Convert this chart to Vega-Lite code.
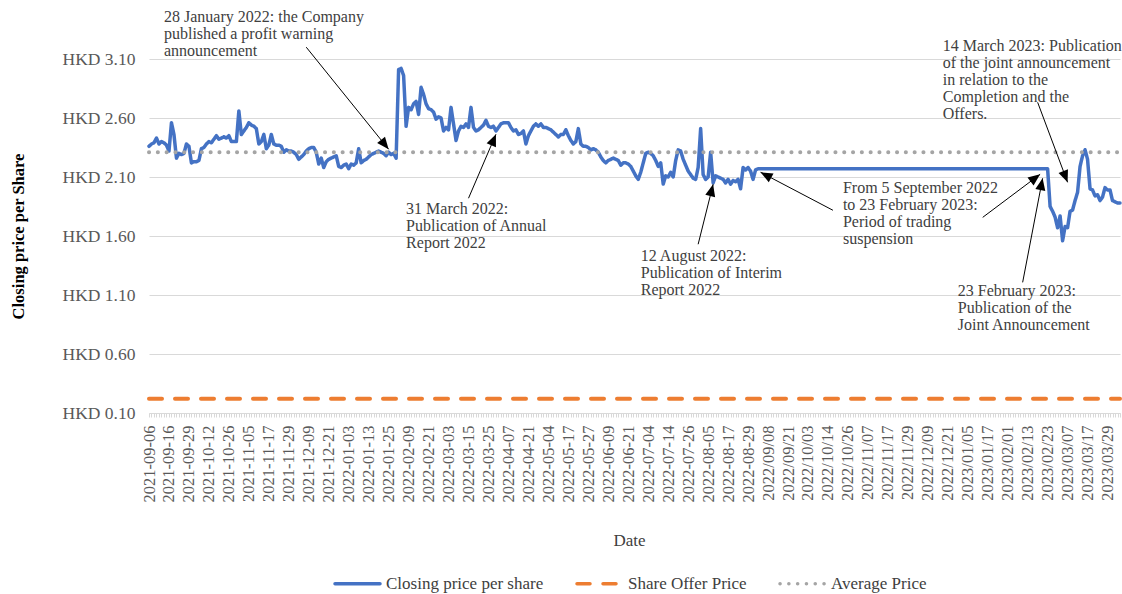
{
 "$schema": "https://vega.github.io/schema/vega-lite/v6.json",
 "width": 971, "height": 354,
 "autosize": {"type": "none"},
 "padding": {"left": 149, "top": 59, "right": 2, "bottom": 181},
 "background": "white",
 "config": {
  "view": {"stroke": null},
  "font": "Liberation Serif",
  "legend": {"orient": "none", "legendX": 184, "legendY": 500, "direction": "horizontal", "symbolType": "stroke", "symbolSize": 2025, "symbolStrokeWidth": 3.5, "labelFont": "Liberation Serif", "labelFontSize": 17, "labelColor": "#404040", "columnPadding": 26, "labelOffset": 4}
 },
 "datasets": {
  "price": [
{"d":"2021-09-06","v":2.36},{"d":"2021-09-07","v":2.38},{"d":"2021-09-08","v":2.39},{"d":"2021-09-09","v":2.43},{"d":"2021-09-10","v":2.38},{"d":"2021-09-13","v":2.40},{"d":"2021-09-14","v":2.39},{"d":"2021-09-15","v":2.37},{"d":"2021-09-16","v":2.32},{"d":"2021-09-17","v":2.56},
{"d":"2021-09-20","v":2.46},{"d":"2021-09-21","v":2.26},{"d":"2021-09-23","v":2.30},{"d":"2021-09-24","v":2.29},{"d":"2021-09-27","v":2.30},{"d":"2021-09-28","v":2.38},{"d":"2021-09-29","v":2.36},{"d":"2021-09-30","v":2.22},{"d":"2021-10-04","v":2.23},{"d":"2021-10-05","v":2.23},
{"d":"2021-10-06","v":2.24},{"d":"2021-10-07","v":2.34},{"d":"2021-10-08","v":2.35},{"d":"2021-10-11","v":2.38},{"d":"2021-10-12","v":2.40},{"d":"2021-10-15","v":2.39},{"d":"2021-10-18","v":2.42},{"d":"2021-10-19","v":2.45},{"d":"2021-10-20","v":2.42},{"d":"2021-10-21","v":2.43},
{"d":"2021-10-22","v":2.44},{"d":"2021-10-25","v":2.43},{"d":"2021-10-26","v":2.45},{"d":"2021-10-27","v":2.40},{"d":"2021-10-28","v":2.40},{"d":"2021-10-29","v":2.40},{"d":"2021-11-01","v":2.66},{"d":"2021-11-02","v":2.46},{"d":"2021-11-03","v":2.49},{"d":"2021-11-04","v":2.52},
{"d":"2021-11-05","v":2.56},{"d":"2021-11-08","v":2.54},{"d":"2021-11-09","v":2.53},{"d":"2021-11-10","v":2.51},{"d":"2021-11-11","v":2.38},{"d":"2021-11-12","v":2.40},{"d":"2021-11-15","v":2.46},{"d":"2021-11-16","v":2.34},{"d":"2021-11-17","v":2.37},{"d":"2021-11-18","v":2.46},
{"d":"2021-11-19","v":2.38},{"d":"2021-11-22","v":2.37},{"d":"2021-11-23","v":2.37},{"d":"2021-11-24","v":2.36},{"d":"2021-11-25","v":2.31},{"d":"2021-11-26","v":2.33},{"d":"2021-11-29","v":2.32},{"d":"2021-11-30","v":2.32},{"d":"2021-12-01","v":2.31},{"d":"2021-12-02","v":2.29},
{"d":"2021-12-03","v":2.25},{"d":"2021-12-06","v":2.27},{"d":"2021-12-07","v":2.29},{"d":"2021-12-08","v":2.32},{"d":"2021-12-09","v":2.34},{"d":"2021-12-10","v":2.35},{"d":"2021-12-13","v":2.35},{"d":"2021-12-14","v":2.31},{"d":"2021-12-15","v":2.21},{"d":"2021-12-16","v":2.26},
{"d":"2021-12-17","v":2.18},{"d":"2021-12-20","v":2.23},{"d":"2021-12-21","v":2.25},{"d":"2021-12-22","v":2.26},{"d":"2021-12-23","v":2.27},{"d":"2021-12-24","v":2.28},{"d":"2021-12-28","v":2.19},{"d":"2021-12-29","v":2.18},{"d":"2021-12-30","v":2.20},{"d":"2021-12-31","v":2.21},
{"d":"2022-01-03","v":2.17},{"d":"2022-01-04","v":2.21},{"d":"2022-01-05","v":2.20},{"d":"2022-01-06","v":2.22},{"d":"2022-01-07","v":2.34},{"d":"2022-01-10","v":2.22},{"d":"2022-01-11","v":2.24},{"d":"2022-01-12","v":2.25},{"d":"2022-01-13","v":2.27},{"d":"2022-01-14","v":2.29},
{"d":"2022-01-17","v":2.30},{"d":"2022-01-18","v":2.31},{"d":"2022-01-19","v":2.32},{"d":"2022-01-20","v":2.31},{"d":"2022-01-21","v":2.30},{"d":"2022-01-24","v":2.28},{"d":"2022-01-25","v":2.31},{"d":"2022-01-26","v":2.29},{"d":"2022-01-27","v":2.30},{"d":"2022-01-28","v":2.26},
{"d":"2022-01-31","v":3.01},{"d":"2022-02-04","v":3.02},{"d":"2022-02-07","v":2.96},{"d":"2022-02-08","v":2.53},{"d":"2022-02-09","v":2.69},{"d":"2022-02-10","v":2.67},{"d":"2022-02-11","v":2.72},{"d":"2022-02-14","v":2.74},{"d":"2022-02-15","v":2.63},{"d":"2022-02-16","v":2.86},
{"d":"2022-02-17","v":2.80},{"d":"2022-02-18","v":2.72},{"d":"2022-02-21","v":2.68},{"d":"2022-02-22","v":2.67},{"d":"2022-02-23","v":2.65},{"d":"2022-02-24","v":2.59},{"d":"2022-02-25","v":2.61},{"d":"2022-02-28","v":2.60},{"d":"2022-03-01","v":2.49},{"d":"2022-03-02","v":2.52},
{"d":"2022-03-03","v":2.50},{"d":"2022-03-04","v":2.69},{"d":"2022-03-07","v":2.55},{"d":"2022-03-08","v":2.41},{"d":"2022-03-09","v":2.49},{"d":"2022-03-10","v":2.53},{"d":"2022-03-11","v":2.52},{"d":"2022-03-14","v":2.55},{"d":"2022-03-15","v":2.52},{"d":"2022-03-16","v":2.69},
{"d":"2022-03-17","v":2.52},{"d":"2022-03-18","v":2.49},{"d":"2022-03-21","v":2.50},{"d":"2022-03-22","v":2.52},{"d":"2022-03-23","v":2.54},{"d":"2022-03-24","v":2.58},{"d":"2022-03-25","v":2.53},{"d":"2022-03-28","v":2.52},{"d":"2022-03-29","v":2.53},{"d":"2022-03-30","v":2.49},
{"d":"2022-03-31","v":2.52},{"d":"2022-04-01","v":2.55},{"d":"2022-04-04","v":2.56},{"d":"2022-04-06","v":2.56},{"d":"2022-04-07","v":2.56},{"d":"2022-04-08","v":2.52},{"d":"2022-04-11","v":2.49},{"d":"2022-04-12","v":2.50},{"d":"2022-04-13","v":2.46},{"d":"2022-04-14","v":2.47},
{"d":"2022-04-19","v":2.49},{"d":"2022-04-20","v":2.38},{"d":"2022-04-21","v":2.45},{"d":"2022-04-22","v":2.49},{"d":"2022-04-25","v":2.53},{"d":"2022-04-26","v":2.55},{"d":"2022-04-27","v":2.53},{"d":"2022-04-28","v":2.55},{"d":"2022-04-29","v":2.52},{"d":"2022-05-03","v":2.52},
{"d":"2022-05-04","v":2.51},{"d":"2022-05-05","v":2.50},{"d":"2022-05-06","v":2.48},{"d":"2022-05-10","v":2.46},{"d":"2022-05-11","v":2.44},{"d":"2022-05-12","v":2.46},{"d":"2022-05-13","v":2.46},{"d":"2022-05-16","v":2.50},{"d":"2022-05-17","v":2.45},{"d":"2022-05-18","v":2.41},
{"d":"2022-05-19","v":2.38},{"d":"2022-05-20","v":2.40},{"d":"2022-05-23","v":2.51},{"d":"2022-05-24","v":2.38},{"d":"2022-05-25","v":2.36},{"d":"2022-05-26","v":2.36},{"d":"2022-05-27","v":2.35},{"d":"2022-05-30","v":2.33},{"d":"2022-05-31","v":2.34},{"d":"2022-06-01","v":2.33},
{"d":"2022-06-02","v":2.31},{"d":"2022-06-06","v":2.27},{"d":"2022-06-07","v":2.24},{"d":"2022-06-08","v":2.22},{"d":"2022-06-09","v":2.24},{"d":"2022-06-10","v":2.25},{"d":"2022-06-13","v":2.26},{"d":"2022-06-14","v":2.25},{"d":"2022-06-15","v":2.24},{"d":"2022-06-16","v":2.20},
{"d":"2022-06-17","v":2.22},{"d":"2022-06-20","v":2.22},{"d":"2022-06-21","v":2.21},{"d":"2022-06-22","v":2.19},{"d":"2022-06-23","v":2.15},{"d":"2022-06-24","v":2.11},{"d":"2022-06-27","v":2.08},{"d":"2022-06-28","v":2.14},{"d":"2022-06-29","v":2.22},{"d":"2022-06-30","v":2.30},
{"d":"2022-07-04","v":2.31},{"d":"2022-07-05","v":2.30},{"d":"2022-07-06","v":2.28},{"d":"2022-07-07","v":2.24},{"d":"2022-07-08","v":2.19},{"d":"2022-07-11","v":2.22},{"d":"2022-07-12","v":2.04},{"d":"2022-07-13","v":2.11},{"d":"2022-07-14","v":2.10},{"d":"2022-07-15","v":2.14},
{"d":"2022-07-18","v":2.10},{"d":"2022-07-19","v":2.24},{"d":"2022-07-20","v":2.33},{"d":"2022-07-21","v":2.32},{"d":"2022-07-22","v":2.25},{"d":"2022-07-25","v":2.20},{"d":"2022-07-26","v":2.15},{"d":"2022-07-27","v":2.12},{"d":"2022-07-28","v":2.09},{"d":"2022-07-29","v":2.08},
{"d":"2022-08-01","v":2.18},{"d":"2022-08-02","v":2.51},{"d":"2022-08-03","v":2.12},{"d":"2022-08-04","v":2.08},{"d":"2022-08-05","v":2.10},{"d":"2022-08-08","v":2.31},{"d":"2022-08-09","v":2.05},{"d":"2022-08-10","v":2.11},{"d":"2022-08-11","v":2.10},{"d":"2022-08-12","v":2.09},
{"d":"2022-08-15","v":2.08},{"d":"2022-08-16","v":2.05},{"d":"2022-08-17","v":2.08},{"d":"2022-08-18","v":2.04},{"d":"2022-08-19","v":2.07},{"d":"2022-08-22","v":2.06},{"d":"2022-08-23","v":2.08},{"d":"2022-08-24","v":2.00},{"d":"2022-08-25","v":2.18},{"d":"2022-08-26","v":2.16},
{"d":"2022-08-29","v":2.18},{"d":"2022-08-30","v":2.15},{"d":"2022-08-31","v":2.08},{"d":"2022-09-01","v":2.16},{"d":"2022-09-02","v":2.17},
{"d":"2022/09/05","v":2.17},{"d":"2022/09/06","v":2.17},{"d":"2022/09/07","v":2.17},{"d":"2022/09/08","v":2.17},{"d":"2022/09/09","v":2.17},{"d":"2022/09/13","v":2.17},{"d":"2022/09/14","v":2.17},{"d":"2022/09/15","v":2.17},{"d":"2022/09/16","v":2.17},{"d":"2022/09/19","v":2.17},
{"d":"2022/09/20","v":2.17},{"d":"2022/09/21","v":2.17},{"d":"2022/09/22","v":2.17},{"d":"2022/09/23","v":2.17},{"d":"2022/09/26","v":2.17},{"d":"2022/09/27","v":2.17},{"d":"2022/09/28","v":2.17},{"d":"2022/09/29","v":2.17},{"d":"2022/09/30","v":2.17},{"d":"2022/10/03","v":2.17},
{"d":"2022/10/05","v":2.17},{"d":"2022/10/06","v":2.17},{"d":"2022/10/07","v":2.17},{"d":"2022/10/10","v":2.17},{"d":"2022/10/11","v":2.17},{"d":"2022/10/12","v":2.17},{"d":"2022/10/13","v":2.17},{"d":"2022/10/14","v":2.17},{"d":"2022/10/17","v":2.17},{"d":"2022/10/18","v":2.17},
{"d":"2022/10/19","v":2.17},{"d":"2022/10/20","v":2.17},{"d":"2022/10/21","v":2.17},{"d":"2022/10/24","v":2.17},{"d":"2022/10/25","v":2.17},{"d":"2022/10/26","v":2.17},{"d":"2022/10/27","v":2.17},{"d":"2022/10/28","v":2.17},{"d":"2022/10/31","v":2.17},{"d":"2022/11/01","v":2.17},
{"d":"2022/11/02","v":2.17},{"d":"2022/11/03","v":2.17},{"d":"2022/11/04","v":2.17},{"d":"2022/11/07","v":2.17},{"d":"2022/11/08","v":2.17},{"d":"2022/11/09","v":2.17},{"d":"2022/11/10","v":2.17},{"d":"2022/11/11","v":2.17},{"d":"2022/11/14","v":2.17},{"d":"2022/11/15","v":2.17},
{"d":"2022/11/16","v":2.17},{"d":"2022/11/17","v":2.17},{"d":"2022/11/18","v":2.17},{"d":"2022/11/21","v":2.17},{"d":"2022/11/22","v":2.17},{"d":"2022/11/23","v":2.17},{"d":"2022/11/24","v":2.17},{"d":"2022/11/25","v":2.17},{"d":"2022/11/28","v":2.17},{"d":"2022/11/29","v":2.17},
{"d":"2022/11/30","v":2.17},{"d":"2022/12/01","v":2.17},{"d":"2022/12/02","v":2.17},{"d":"2022/12/05","v":2.17},{"d":"2022/12/06","v":2.17},{"d":"2022/12/07","v":2.17},{"d":"2022/12/08","v":2.17},{"d":"2022/12/09","v":2.17},{"d":"2022/12/12","v":2.17},{"d":"2022/12/13","v":2.17},
{"d":"2022/12/14","v":2.17},{"d":"2022/12/15","v":2.17},{"d":"2022/12/16","v":2.17},{"d":"2022/12/19","v":2.17},{"d":"2022/12/20","v":2.17},{"d":"2022/12/21","v":2.17},{"d":"2022/12/22","v":2.17},{"d":"2022/12/23","v":2.17},{"d":"2022/12/28","v":2.17},{"d":"2022/12/29","v":2.17},
{"d":"2022/12/30","v":2.17},{"d":"2023/01/03","v":2.17},{"d":"2023/01/04","v":2.17},{"d":"2023/01/05","v":2.17},{"d":"2023/01/06","v":2.17},{"d":"2023/01/09","v":2.17},{"d":"2023/01/10","v":2.17},{"d":"2023/01/11","v":2.17},{"d":"2023/01/12","v":2.17},{"d":"2023/01/13","v":2.17},
{"d":"2023/01/16","v":2.17},{"d":"2023/01/17","v":2.17},{"d":"2023/01/18","v":2.17},{"d":"2023/01/19","v":2.17},{"d":"2023/01/20","v":2.17},{"d":"2023/01/26","v":2.17},{"d":"2023/01/27","v":2.17},{"d":"2023/01/30","v":2.17},{"d":"2023/01/31","v":2.17},{"d":"2023/02/01","v":2.17},
{"d":"2023/02/02","v":2.17},{"d":"2023/02/03","v":2.17},{"d":"2023/02/06","v":2.17},{"d":"2023/02/07","v":2.17},{"d":"2023/02/08","v":2.17},{"d":"2023/02/09","v":2.17},{"d":"2023/02/10","v":2.17},{"d":"2023/02/13","v":2.17},{"d":"2023/02/14","v":2.17},{"d":"2023/02/15","v":2.17},
{"d":"2023/02/16","v":2.17},{"d":"2023/02/17","v":2.17},{"d":"2023/02/20","v":2.17},{"d":"2023/02/21","v":2.17},{"d":"2023/02/22","v":2.17},{"d":"2023/02/23","v":2.17},
{"d":"2023/02/24","v":1.85},{"d":"2023/02/27","v":1.81},{"d":"2023/02/28","v":1.76},{"d":"2023/03/01","v":1.67},{"d":"2023/03/02","v":1.77},{"d":"2023/03/03","v":1.56},{"d":"2023/03/06","v":1.68},{"d":"2023/03/07","v":1.67},{"d":"2023/03/08","v":1.81},{"d":"2023/03/09","v":1.82},
{"d":"2023/03/10","v":1.90},{"d":"2023/03/13","v":1.97},{"d":"2023/03/14","v":2.19},{"d":"2023/03/15","v":2.28},{"d":"2023/03/16","v":2.33},{"d":"2023/03/17","v":2.25},{"d":"2023/03/20","v":2.00},{"d":"2023/03/21","v":1.99},{"d":"2023/03/22","v":1.94},{"d":"2023/03/23","v":1.95},
{"d":"2023/03/24","v":1.90},{"d":"2023/03/27","v":1.93},{"d":"2023/03/28","v":2.01},{"d":"2023/03/29","v":1.99},{"d":"2023/03/30","v":1.99},{"d":"2023/03/31","v":1.90},{"d":"2023/04/03","v":1.89},{"d":"2023/04/04","v":1.88},{"d":"2023/04/06","v":1.88}
  ],
  "refs": [
   {"s": "Share Offer Price", "d": "2021-09-06", "v": 0.22},
   {"s": "Share Offer Price", "d": "2023/04/06", "v": 0.22},
   {"s": "Average Price", "d": "2021-09-06", "v": 2.31},
   {"s": "Average Price", "d": "2023/04/06", "v": 2.31}
  ],
  "arrows": [
   {"n": "a1", "d1": "2021-12-08", "v1": 3.20, "d2": "2022-01-25", "v2": 2.335},
   {"n": "a2", "d1": "2022-03-15", "v1": 1.92, "d2": "2022-03-30", "v2": 2.462},
   {"n": "a3", "d1": "2022-08-01", "v1": 1.53, "d2": "2022-08-09", "v2": 2.038},
   {"n": "a4", "d1": "2022/10/18", "v1": 1.818, "d2": "2022/09/05", "v2": 2.14},
   {"n": "a5", "d1": "2023/01/13", "v1": 1.758, "d2": "2023/02/20", "v2": 2.123},
   {"n": "a6", "d1": "2023/02/09", "v1": 1.207, "d2": "2023/02/21", "v2": 2.089},
   {"n": "a7", "d1": "2023/02/17", "v1": 2.733, "d2": "2023/03/07", "v2": 2.055}
  ],
  "notes": [
   {"d": "2021-09-14", "v": 3.52, "t": "28 January 2022: the Company\npublished a profit warning\nannouncement"},
   {"d": "2022-02-08", "v": 1.895, "t": "31 March 2022:\nPublication of Annual\nReport 2022"},
   {"d": "2022-06-28", "v": 1.495, "t": "12 August 2022:\nPublication of Interim\nReport 2022"},
   {"d": "2022/10/24", "v": 2.077, "t": "From 5 September 2022\nto 23 February 2023:\nPeriod of trading\nsuspension"},
   {"d": "2022/12/29", "v": 1.2, "t": "23 February 2023:\nPublication of the\nJoint Announcement"},
   {"d": "2022/12/19", "v": 3.275, "t": "14 March 2023: Publication\nof the joint announcement\nin relation to the\nCompletion and the\nOffers."}
  ]
 },
 "layer": [
  {
   "data": {"name": "price"},
   "mark": {"type": "line", "strokeWidth": 3.5, "strokeJoin": "round", "strokeCap": "round"},
   "encoding": {
    "x": {"field": "d", "type": "ordinal", "scale": {"type": "point", "padding": 0},
     "axis": {"title": "Date", "labelExpr": "indexof(['2021-09-06','2021-09-16','2021-09-29','2021-10-12','2021-10-26','2021-11-05','2021-11-17','2021-11-29','2021-12-09','2021-12-21','2022-01-03','2022-01-13','2022-01-25','2022-02-09','2022-02-21','2022-03-03','2022-03-15','2022-03-25','2022-04-07','2022-04-21','2022-05-04','2022-05-17','2022-05-27','2022-06-09','2022-06-21','2022-07-04','2022-07-14','2022-07-26','2022-08-05','2022-08-17','2022-08-29','2022/09/08','2022/09/21','2022/10/03','2022/10/14','2022/10/26','2022/11/07','2022/11/17','2022/11/29','2022/12/09','2022/12/21','2023/01/05','2023/01/17','2023/02/01','2023/02/13','2023/02/23','2023/03/07','2023/03/17','2023/03/29'], datum.value) >= 0 ? datum.value : ''",
      "labelOverlap": false, "labelAngle": 270, "labelAlign": "right", "labelBaseline": "middle", "labelPadding": 8, "labelFont": "Liberation Serif", "labelFontSize": 16.5, "labelColor": "#595959", "labelBound": false, "labelFlush": false,
      "ticks": true, "tickColor": "#d9d9d9", "tickSize": 4, "domain": true, "domainColor": "#d9d9d9", "grid": false,
      "titleFont": "Liberation Serif", "titleFontSize": 17, "titleFontWeight": "normal", "titleColor": "#404040", "titleX": 480, "titleY": 127, "titleAlign": "center", "titleBaseline": "middle"}},
    "y": {"field": "v", "type": "quantitative", "scale": {"domain": [0.1, 3.1], "nice": false, "zero": false},
     "axis": {"values": [0.1, 0.6, 1.1, 1.6, 2.1, 2.6, 3.1], "labelExpr": "'HKD ' + format(datum.value, '.2f')", "grid": true, "gridColor": "#d9d9d9", "gridWidth": 1, "domain": false, "ticks": false, "labelPadding": 14, "labelFont": "Liberation Serif", "labelFontSize": 17.5, "labelColor": "#595959",
      "title": "Closing price per Share", "titleFont": "Liberation Serif", "titleFontSize": 16.5, "titleFontWeight": "bold", "titleColor": "#000000", "titleX": -131, "titleY": 177, "titleAngle": 270, "titleAlign": "center", "titleBaseline": "middle"}},
    "color": {"datum": "Closing price per share", "type": "nominal", "scale": {"domain": ["Closing price per share", "Share Offer Price", "Average Price"], "range": ["#4472C4", "#ED7D31", "#A5A5A5"]}, "legend": {"title": null, "encode": {"symbols": {"update": {"strokeCap": {"value": "round"}}}}}},
    "strokeDash": {"datum": "Closing price per share", "type": "nominal", "scale": {"domain": ["Closing price per share", "Share Offer Price", "Average Price"], "range": [[1, 0], [13, 13], [0.1, 8.7]]}, "legend": {"title": null, "encode": {"symbols": {"update": {"strokeCap": {"value": "round"}}}}}}
   }
  },
  {
   "data": {"name": "refs"},
   "mark": {"type": "line", "strokeWidth": 4, "strokeCap": "round"},
   "encoding": {
    "x": {"field": "d", "type": "ordinal"},
    "y": {"field": "v", "type": "quantitative"},
    "color": {"field": "s", "type": "nominal", "scale": {"domain": ["Closing price per share", "Share Offer Price", "Average Price"], "range": ["#4472C4", "#ED7D31", "#A5A5A5"]}, "legend": {"title": null, "encode": {"symbols": {"update": {"strokeCap": {"value": "round"}}}}}},
    "strokeDash": {"field": "s", "type": "nominal", "scale": {"domain": ["Closing price per share", "Share Offer Price", "Average Price"], "range": [[1, 0], [13, 13], [0.1, 8.7]]}, "legend": {"title": null, "encode": {"symbols": {"update": {"strokeCap": {"value": "round"}}}}}}
   }
  },
  {
   "data": {"name": "arrows"},
   "mark": {"type": "rule", "color": "#000000", "strokeWidth": 1},
   "encoding": {
    "x": {"field": "d1", "type": "ordinal"},
    "y": {"field": "v1", "type": "quantitative"},
    "x2": {"field": "d2"},
    "y2": {"field": "v2"}
   }
  },
  {"data": {"name": "arrows"}, "transform": [{"filter": "datum.n == 'a1'"}], "mark": {"type": "point", "shape": "M0,0L-0.42,1L0.42,1Z", "size": 576, "angle": 141, "filled": true, "color": "#000000", "opacity": 1}, "encoding": {"x": {"field": "d2", "type": "ordinal"}, "y": {"field": "v2", "type": "quantitative"}}},
  {"data": {"name": "arrows"}, "transform": [{"filter": "datum.n == 'a2'"}], "mark": {"type": "point", "shape": "M0,0L-0.42,1L0.42,1Z", "size": 576, "angle": 23, "filled": true, "color": "#000000", "opacity": 1}, "encoding": {"x": {"field": "d2", "type": "ordinal"}, "y": {"field": "v2", "type": "quantitative"}}},
  {"data": {"name": "arrows"}, "transform": [{"filter": "datum.n == 'a3'"}], "mark": {"type": "point", "shape": "M0,0L-0.42,1L0.42,1Z", "size": 576, "angle": 14, "filled": true, "color": "#000000", "opacity": 1}, "encoding": {"x": {"field": "d2", "type": "ordinal"}, "y": {"field": "v2", "type": "quantitative"}}},
  {"data": {"name": "arrows"}, "transform": [{"filter": "datum.n == 'a4'"}], "mark": {"type": "point", "shape": "M0,0L-0.42,1L0.42,1Z", "size": 576, "angle": -62, "filled": true, "color": "#000000", "opacity": 1}, "encoding": {"x": {"field": "d2", "type": "ordinal"}, "y": {"field": "v2", "type": "quantitative"}}},
  {"data": {"name": "arrows"}, "transform": [{"filter": "datum.n == 'a5'"}], "mark": {"type": "point", "shape": "M0,0L-0.42,1L0.42,1Z", "size": 576, "angle": 53, "filled": true, "color": "#000000", "opacity": 1}, "encoding": {"x": {"field": "d2", "type": "ordinal"}, "y": {"field": "v2", "type": "quantitative"}}},
  {"data": {"name": "arrows"}, "transform": [{"filter": "datum.n == 'a6'"}], "mark": {"type": "point", "shape": "M0,0L-0.42,1L0.42,1Z", "size": 576, "angle": 11, "filled": true, "color": "#000000", "opacity": 1}, "encoding": {"x": {"field": "d2", "type": "ordinal"}, "y": {"field": "v2", "type": "quantitative"}}},
  {"data": {"name": "arrows"}, "transform": [{"filter": "datum.n == 'a7'"}], "mark": {"type": "point", "shape": "M0,0L-0.42,1L0.42,1Z", "size": 576, "angle": 159, "filled": true, "color": "#000000", "opacity": 1}, "encoding": {"x": {"field": "d2", "type": "ordinal"}, "y": {"field": "v2", "type": "quantitative"}}},
  {
   "data": {"name": "notes"},
   "mark": {"type": "text", "align": "left", "baseline": "top", "lineBreak": "\n", "lineHeight": 17, "font": "Liberation Serif", "fontSize": 16, "color": "#404040"},
   "encoding": {
    "x": {"field": "d", "type": "ordinal"},
    "y": {"field": "v", "type": "quantitative"},
    "text": {"field": "t"}
   }
  }
 ]
}
